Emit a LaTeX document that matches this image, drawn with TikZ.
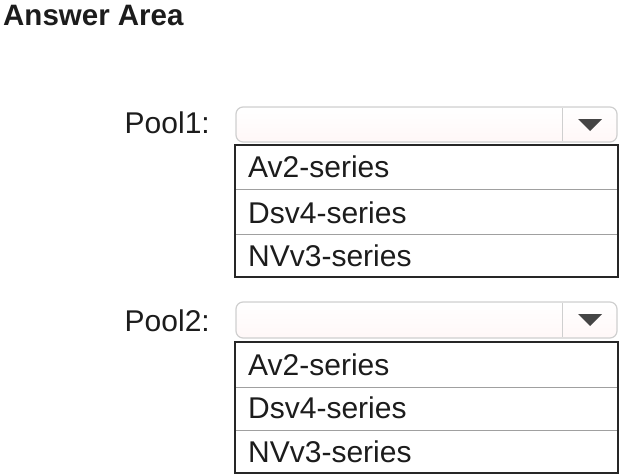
\documentclass[tikz,border=0pt]{standalone}
\usepackage{fontspec}
\setmainfont{Liberation Sans}
\usepackage{xcolor}
\usetikzlibrary{calc}
\definecolor{boxgray}{HTML}{CFCFCF}
\definecolor{rulegray}{HTML}{A0A0A0}
\definecolor{inkgray}{HTML}{1C1C1C}
\definecolor{tipgray}{HTML}{454545}

\begin{document}
\begin{tikzpicture}[x=1pt,y=-1pt]
        \pgfmathsetmacro{\lx}{235}
        \pgfmathsetmacro{\rx}{618}
        \pgfmathsetmacro{\sx}{562}
        \pgfmathsetmacro{\tx}{590}
        \tikzset{
          txt/.style={anchor=base west, inner sep=0pt, text=inkgray, font=\fontsize{30}{36}\selectfont},
          lbl/.style={anchor=base east, inner sep=0pt, text=inkgray, font=\fontsize{30}{36}\selectfont},
          drop/.style={draw=boxgray, line width=1.2pt, rounded corners=7pt, top color=white, bottom color=red!3},
          rowline/.style={rulegray, line width=1pt},
          frame/.style={draw=black!85, line width=1.6pt}
        }
        \useasboundingbox (0,0) rectangle (621,474);
        \node[txt, font=\fontsize{29.5}{35}\selectfont\bfseries] (title) at (3,25) {Answer Area};
        % first pool
        \coordinate (D1) at ({\lx+1},107);
        \coordinate (E1) at ({\rx-1},142);
        \coordinate (L1) at (\lx,145);
        \coordinate (M1) at (\rx,277);
        \shade[drop] (D1) rectangle (E1);
        \draw[boxgray, line width=1pt] (\sx,108) -- (\sx,141);
        \fill[tipgray] ({\tx-12},119) -- ({\tx+12},119) -- (\tx,131) -- cycle;
        \node[lbl] (pool1) at (210,133) {Pool1:};
        \fill[white] (L1) rectangle (M1);
        \draw[rowline] (\lx,189) -- (\rx,189);
        \draw[rowline] (\lx,234) -- (\rx,234);
        \draw[frame] (L1) rectangle (M1);
        \node[txt] (pool1a) at (248,177) {Av2-series};
        \node[txt] (pool1b) at (248,223) {Dsv4-series};
        \node[txt] (pool1c) at (248,266) {NVv3-series};
        % second pool
        \coordinate (D2) at ({\lx+1},302);
        \coordinate (E2) at ({\rx-1},338);
        \coordinate (L2) at (\lx,342);
        \coordinate (M2) at (\rx,473);
        \shade[drop] (D2) rectangle (E2);
        \draw[boxgray, line width=1pt] (\sx,303) -- (\sx,337);
        \fill[tipgray] ({\tx-12},314) -- ({\tx+12},314) -- (\tx,326) -- cycle;
        \node[lbl] (pool2) at (210,331) {Pool2:};
        \fill[white] (L2) rectangle (M2);
        \draw[rowline] (\lx,387) -- (\rx,387);
        \draw[rowline] (\lx,430) -- (\rx,430);
        \draw[frame] (L2) rectangle (M2);
        \node[txt] (pool2a) at (248,375) {Av2-series};
        \node[txt] (pool2b) at (248,418) {Dsv4-series};
        \node[txt] (pool2c) at (248,462) {NVv3-series};
    \end{tikzpicture}
\end{document}
